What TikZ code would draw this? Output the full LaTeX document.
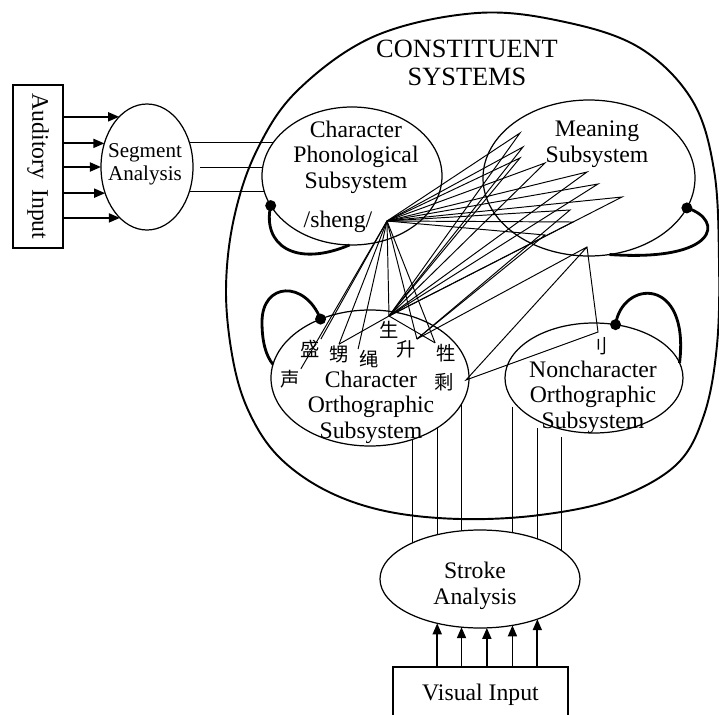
\documentclass[tikz,border=0pt]{standalone}
\usepackage{fontspec}
\setmainfont{Liberation Serif}
\newfontfamily\cjk{Noto Sans CJK SC}
\usetikzlibrary{shapes.geometric,arrows.meta}

\tikzset{
  sub/.style={draw, ellipse, line width=0.7pt, inner sep=0pt, outer sep=0pt},
  lbl/.style={align=center, font=\fontsize{13.5}{14.5}\selectfont},
  zi/.style={font=\cjk\fontsize{11}{11}\selectfont, inner sep=0.5pt},
  link/.style={line width=0.55pt},
  fb/.style={line width=1.6pt},
  fbdot/.style={circle, fill, inner sep=0pt, minimum size=2.2mm},
  inarrow/.style={line width=1pt, -{Triangle[length=2.2mm,width=1.8mm]}},
  inbox/.style={draw, line width=1pt, inner sep=0pt}
}

\begin{document}
\begin{tikzpicture}[x=0.2mm, y=-0.2mm]
     \useasboundingbox (0,0) rectangle (719,715);

     % constituent systems
     \draw [line width=1.1pt] plot [smooth cycle, tension=0.6] coordinates {
       (477,13) (565,22) (640,48) (692,100) (714,170) (719,260) (717,345)
       (704,415) (676,465) (615,499) (540,515) (460,519) (385,511) (325,490)
       (278,456) (249,412) (233,360) (226,290) (234,218) (257,150) (298,90) (375,36)};
     \node [lbl, font=\fontsize{15}{15.5}\selectfont] (sys) at (467,63) {CONSTITUENT\\SYSTEMS};

     \node [sub, minimum width=18.4mm, minimum height=25.2mm] (seg) at (147,167) {};
     \node [sub, minimum width=36mm, minimum height=27.6mm] (phon) at (352,176) {};
     \node [sub, minimum width=42.4mm, minimum height=31.2mm] (mean) at (589,178) {};
     \node [sub, minimum width=39.6mm, minimum height=27.2mm] (chor) at (370,378) {};
     \node [sub, minimum width=35.6mm, minimum height=22mm] (non) at (594,378) {};
     \node [sub, minimum width=40mm, minimum height=19.6mm] (stroke) at (480,579) {};

     \node [lbl, font=\fontsize{12}{13}\selectfont] (segtxt) at (145,164) {Segment\\Analysis};
     \node [lbl] (phontxt) at (356,157) {Character\\Phonological\\Subsystem};
     \node [lbl] (shengtxt) at (338,222) {/sheng/};
     \node [lbl] (meantxt) at (597,144) {Meaning\\Subsystem};
     \node [lbl] (chortxt) at (371,407) {Character\\Orthographic\\Subsystem};
     \node [lbl] (nontxt) at (593,397) {Noncharacter\\Orthographic\\Subsystem};
     \node [lbl] (stroketxt) at (475,586) {Stroke\\Analysis};

     % inputs
     \node [inbox, minimum width=10mm, minimum height=32.6mm] (aud) at (38,166.5)
       {\rotatebox{-90}{\fontsize{13.5}{14.5}\selectfont Auditory\hspace{2mm}Input}};
     \node [inbox, minimum width=35mm, minimum height=11.2mm, font=\fontsize{13.5}{14.5}\selectfont] (vis) at (480.5,695) {Visual Input};

     \foreach \a in {119,151,180,212,242}
       \draw [inarrow] (aud.east |- seg.\a) -- (seg.\a);
     \foreach \a in {226,249,278,305,325}
       \draw [inarrow] (stroke.\a |- vis.north) -- (stroke.\a);

     \draw [link] (seg.30) -- (seg.30 -| phon.157);
     \draw [link] ([xshift=1.4mm]seg.east) -- (seg.east -| phon.174);
     \draw [link] (seg.330) -- (seg.330 -| phon.191);

     \foreach \a/\b in {304/152,323/134,345/111}
       \draw [link] (stroke.\b |- chor.\a) -- (stroke.\b);
     \foreach \a/\b in {194/55,216/35,238/19}
       \draw [link, shorten <=1.6mm] (stroke.\b |- non.\a) -- (stroke.\b);

     % feedback loops
     \node [fbdot] (pdot) at (phon.200) {};
     \draw [fb] (pdot.center) .. controls (262,245) and (295,268) .. (phon.268);
     \node [fbdot] (mdot) at (mean.343) {};
     \draw [fb] (mdot.center) .. controls (725,220) and (718,262) .. (mean.285);
     \node [fbdot] (cdot) at (chor.130) {};
     \draw [fb] (cdot.center) .. controls (305,280) and (262,282) .. (262,322)
       .. controls (262,342) and (266,356) .. (chor.172);
     \node [fbdot] (ndot) at (non.68) {};
     \draw [fb] (ndot.center) .. controls (622,280) and (690,275) .. (non.10);

     % characters
     \node [zi] (z1) at (290,379) {声};
     \node [zi] (z2) at (310,349) {盛};
     \node [zi] (z3) at (339,354) {甥};
     \node [zi] (z4) at (369,359) {绳};
     \node [zi] (z5) at (389,330) {生};
     \node [zi] (z6) at (406,349) {升};
     \node [zi] (z7) at (446,353) {牲};
     \node [zi] (z8) at (444,382) {剩};
     \node [zi] (rad) at (598,346) {刂};

     \coordinate (pron) at (387,221);
     \coordinate (hub) at (389,316);
     \coordinate (shengR) at (466,380);
     \coordinate (radT) at (598,332);
     \coordinate (m1) at (520,133);
     \coordinate (m2) at (523,147);
     \coordinate (m3) at (520,158);
     \coordinate (m4) at (545,163);
     \coordinate (m5) at (587,172);
     \coordinate (m6) at (598,184);
     \coordinate (m7) at (622,197);
     \coordinate (m8) at (570,210);
     \coordinate (m9) at (573,222);
     \coordinate (m10) at (545,235);
     \coordinate (m11) at (587,247);

     \foreach \z in {z1.north east,z2.north east,z3.north,z4.north west,hub,z6.north east,z7.north west}
       \draw [link] (pron) -- (\z);
     \draw [link] (z3.north) -- (hub) -- (z7.north west);

     \foreach \m in {m1,m2,m3,m4,m5,m6,m7,m9}
       \draw [link] (pron) -- (\m) -- (hub);
     \foreach \m in {m8,m10}
       \draw [link] (pron) -- (\m) -- (z6.north east);
     \draw [link] (z6.north east) -- (m11) -- (radT) -- (shengR) -- (m11);
\end{tikzpicture}
\end{document}
